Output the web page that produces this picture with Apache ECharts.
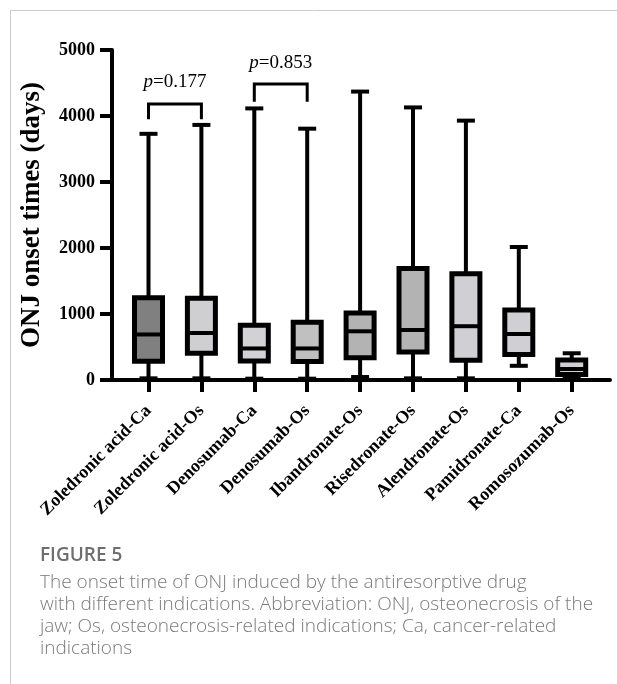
<!DOCTYPE html>
<html><head><meta charset="utf-8">
<script src="https://cdn.jsdelivr.net/npm/echarts@6/dist/echarts.min.js"></script>
<style>html,body{margin:0;padding:0;background:#fff}#c{width:617px;height:684px}</style>
</head><body><div id="c"></div>
<script>
const categories = ['Zoledronic acid-Ca','Zoledronic acid-Os','Denosumab-Ca','Denosumab-Os','Ibandronate-Os','Risedronate-Os','Alendronate-Os','Pamidronate-Ca','Romosozumab-Os'];
const minVals    = [25, 25, 20, 20, 45, 25, 25, 215, 20];
const q1Vals     = [285, 404, 288, 280, 338, 425, 300, 385, 83];
const medianVals = [690, 712, 478, 478, 738, 758, 815, 697, 167];
const q3Vals     = [1245, 1240, 828, 875, 1015, 1688, 1610, 1060, 303];
const maxVals    = [3730, 3865, 4115, 3808, 4370, 4130, 3930, 2015, 405];
const yTicks = [0, 1000, 2000, 3000, 4000, 5000];
const pValues = ['0.177', '0.853'];
const pLeftCat = [0, 2];
const pRightCat = [1, 3];
const pBarY = [4182, 4485];
const pLegY = [3950, 4217];
const pTextY = [4515, 4803];
const captionTitle = 'FIGURE 5';
const captionLines = [
  'The onset time of ONJ induced by the antiresorptive drug',
  'with different indications. Abbreviation: ONJ, osteonecrosis of the',
  'jaw; Os, osteonecrosis-related indications; Ca, cancer-related',
  'indications'
];

const fills = ['#808080','#cfcfd2','#d2d2d6','#c0c0c0','#b3b3b3','#b3b3b3','#d0d0d4','#d0d0d4','#d0d0d4'];
const SERIF = '"Liberation Serif","Times New Roman",serif';

const boxData = categories.map((c, i) => [i, minVals[i], q1Vals[i], medianVals[i], q3Vals[i], maxVals[i]]);
const pData = pValues.map((p, k) => [pLeftCat[k], pRightCat[k], pBarY[k], pLegY[k], pTextY[k], k]);

function renderBox(params, api) {
  const i = api.value(0);
  const x = api.coord([i, 0])[0];
  const yMin = api.coord([i, api.value(1)])[1];
  const yQ1 = api.coord([i, api.value(2)])[1];
  const yMed = api.coord([i, api.value(3)])[1];
  const yQ3 = api.coord([i, api.value(4)])[1];
  const yMax = api.coord([i, api.value(5)])[1];
  const bw = 28, cw = 18;
  const st = {stroke: '#000', lineWidth: 4};
  return {type: 'group', children: [
    {type: 'line', shape: {x1: x, y1: yMax, x2: x, y2: yMin}, style: st},
    {type: 'line', shape: {x1: x - cw/2, y1: yMax, x2: x + cw/2, y2: yMax}, style: st},
    {type: 'line', shape: {x1: x - cw/2, y1: yMin, x2: x + cw/2, y2: yMin}, style: st},
    {type: 'rect', shape: {x: x - bw/2, y: yQ3, width: bw, height: yQ1 - yQ3}, style: {fill: fills[i], stroke: '#000', lineWidth: 5}},
    {type: 'line', shape: {x1: x - bw/2, y1: yMed, x2: x + bw/2, y2: yMed}, style: st}
  ]};
}

function renderP(params, api) {
  const xl = api.coord([api.value(0), 0])[0];
  const xr = api.coord([api.value(1), 0])[0];
  const yb = api.coord([0, api.value(2)])[1];
  const yl = api.coord([0, api.value(3)])[1];
  const yt = api.coord([0, api.value(4)])[1];
  const k = api.value(5);
  const st = {stroke: '#000', lineWidth: 3, fill: null};
  return {type: 'group', children: [
    {type: 'polyline', shape: {points: [[xl, yl], [xl, yb], [xr, yb], [xr, yl]]}, style: st},
    {type: 'text', style: {
      text: '{i|p}=' + pValues[k], x: (xl + xr) / 2, y: yt, align: 'center', verticalAlign: 'middle',
      fill: '#000', font: '19px ' + SERIF,
      rich: {i: {fontStyle: 'italic', fontSize: 19, fontFamily: SERIF, fill: '#000'}}
    }}
  ]};
}

const chart = echarts.init(document.getElementById('c'), null, {renderer: 'canvas'});
chart.setOption({
  backgroundColor: '#fff',
  animation: false,
  grid: {left: 112, top: 50, width: 498, height: 330, containLabel: false},
  xAxis: {
    type: 'value', min: -0.69, max: 8.724,
    splitLine: {show: false},
    axisLine: {show: true, onZero: false, lineStyle: {color: '#000', width: 4}},
    axisTick: {show: true, customValues: categories.map((c, i) => i), length: 12, lineStyle: {color: '#000', width: 4}},
    axisLabel: {
      customValues: categories.map((c, i) => i),
      formatter: v => categories[Math.round(v)],
      rotate: 45, margin: 28, color: '#000', fontFamily: SERIF, fontWeight: 'bold', fontSize: 18
    }
  },
  yAxis: {
    type: 'value', min: 0, max: 5000, interval: 1000,
    name: 'ONJ onset times (days)', nameLocation: 'middle', nameGap: 66,
    nameTextStyle: {fontFamily: SERIF, fontWeight: 'bold', fontSize: 27, color: '#000'},
    splitLine: {show: false},
    axisLine: {show: true, onZero: false, lineStyle: {color: '#000', width: 4}},
    axisTick: {show: true, length: 12, lineStyle: {color: '#000', width: 4}},
    axisLabel: {margin: 17, color: '#000', fontFamily: SERIF, fontWeight: 'bold', fontSize: 18,
      customValues: yTicks, formatter: v => String(v)}
  },
  series: [
    {type: 'custom', renderItem: renderBox, data: boxData, encode: {x: 0, y: [1, 2, 3, 4, 5]}, clip: false, z: 3},
    {type: 'custom', renderItem: renderP, data: pData, encode: {x: [0, 1], y: [2, 3, 4]}, clip: false, z: 3}
  ],
  graphic: [
    {type: 'line', shape: {x1: 10, y1: 10.5, x2: 617, y2: 10.5}, style: {stroke: '#cccccc', lineWidth: 1}, silent: true},
    {type: 'line', shape: {x1: 10.5, y1: 10, x2: 10.5, y2: 684}, style: {stroke: '#cccccc', lineWidth: 1}, silent: true},
    {type: 'text', left: 40, top: 546, style: {text: captionTitle, fill: '#6e6e6e', font: '600 19px "Open Sans", sans-serif'}},
    {type: 'text', left: 40, top: 572, style: {text: captionLines.join('\n'), fill: '#7a7a7a', font: '300 19px "Open Sans", sans-serif', lineHeight: 22}}
  ]
});
</script></body></html>
